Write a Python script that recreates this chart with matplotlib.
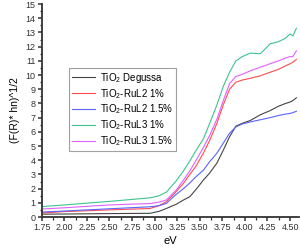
import numpy as np
import matplotlib
matplotlib.use('Agg')
import matplotlib.pyplot as plt
from matplotlib.ticker import MultipleLocator

plt.rcParams['font.family'] = ['Liberation Sans', 'DejaVu Sans']
plt.rcParams['mathtext.default'] = 'regular'

# --------------------------
# Data
# --------------------------
ev = [1.75, 2.0, 2.5, 2.95, 3.05, 3.13, 3.24, 3.32, 3.39, 3.46, 3.54, 3.61, 3.69,
      3.76, 3.83, 3.9, 3.97, 4.06, 4.17, 4.28, 4.37, 4.45, 4.5, 4.53, 4.57]

degussa = [0.2, 0.21, 0.24, 0.26, 0.4, 0.6, 0.9, 1.2, 1.43, 1.95, 2.6, 3.1, 3.8,
           4.7, 5.65, 6.4, 6.6, 6.8, 7.2, 7.5, 7.8, 8.0, 8.1, 8.2, 8.4]
rul2_1 = [0.28, 0.38, 0.5, 0.6, 0.8, 1.08, 1.8, 2.37, 3.0, 3.6, 4.5, 5.4, 6.6,
          7.9, 9.0, 9.5, 9.65, 9.77, 9.95, 10.2, 10.4, 10.65, 10.8, 10.9, 11.1]
rul2_15 = [0.35, 0.42, 0.58, 0.72, 0.8, 0.96, 1.6, 2.0, 2.4, 2.85, 3.3, 3.9, 4.5,
           5.2, 5.9, 6.35, 6.55, 6.7, 6.85, 7.0, 7.15, 7.25, 7.3, 7.35, 7.45]
rul3_1 = [0.73, 0.85, 1.1, 1.35, 1.5, 1.75, 2.55, 3.25, 3.95, 4.7, 5.5, 6.6, 7.9,
          9.2, 10.2, 11.0, 11.3, 11.55, 11.5, 12.2, 12.35, 12.6, 12.9, 12.75, 13.3]
rul3_15 = [0.56, 0.65, 0.85, 0.95, 1.05, 1.2, 1.9, 2.6, 3.25, 4.0, 4.9, 5.75, 6.9,
           8.2, 9.4, 9.9, 10.05, 10.3, 10.55, 10.8, 11.0, 11.2, 11.3, 11.3, 11.7]

labels = ['TiO$_2$ Degussa', 'TiO$_2$-RuL2 1%', 'TiO$_2$-RuL2 1.5%',
          'TiO$_2$-RuL3 1%', 'TiO$_2$-RuL3 1.5%']
colors = ['#444444', '#ff4d4d', '#5a64ff', '#3cc48e', '#e060ff']

fig = plt.figure(figsize=(3.0, 2.49), dpi=100)
ax = fig.add_axes([0.139, 0.1285, 0.858, 0.855])

for ys, lab, c in zip([degussa, rul2_1, rul2_15, rul3_1, rul3_15], labels, colors):
    ax.plot(ev, ys, color=c, lw=0.8, label=lab)

ax.set_xlim(1.75, 4.6)
ax.set_ylim(0, 15)
ax.xaxis.set_major_locator(MultipleLocator(0.25))
ax.xaxis.set_minor_locator(MultipleLocator(0.125))
ax.yaxis.set_major_locator(MultipleLocator(1))
ax.yaxis.set_minor_locator(MultipleLocator(0.5))
ax.xaxis.set_major_formatter(plt.FormatStrFormatter('%.2f'))

for side in ['top', 'right']:
    ax.spines[side].set_visible(False)
for side in ['left', 'bottom']:
    ax.spines[side].set_linewidth(1.3)
    ax.spines[side].set_color('#333333')
ax.tick_params(which='major', length=3, width=1.1, labelsize=6.5, pad=1.5, colors='#333333')
ax.tick_params(which='minor', length=1.8, width=0.9, colors='#333333')

ax.set_xlabel('eV', fontsize=8, labelpad=3)
ax.set_ylabel('(F(R)* hn)^1/2', fontsize=7.5, labelpad=4)

leg = ax.legend(loc='upper left', bbox_to_anchor=(0.107, 0.70), fontsize=7,
                frameon=True, fancybox=False, handlelength=2.4, handletextpad=0.5,
                borderpad=0.3, labelspacing=0.2, borderaxespad=0)
leg.get_frame().set_edgecolor('#888888')
leg.get_frame().set_linewidth(0.8)

fig.savefig('out.png', dpi=100)
